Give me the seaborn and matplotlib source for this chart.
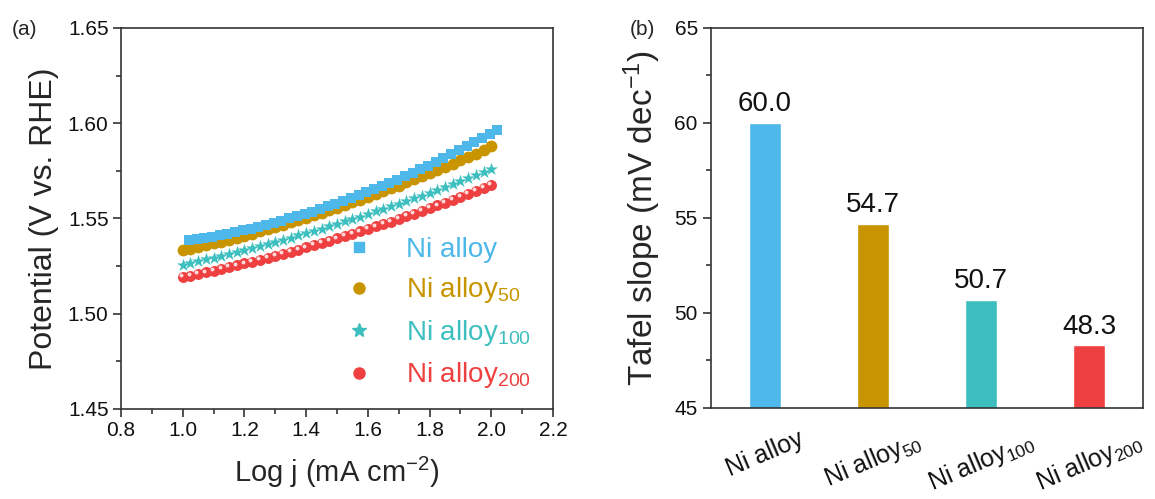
import numpy as np
import pandas as pd
import matplotlib
matplotlib.use("Agg")
import matplotlib.pyplot as plt
import matplotlib.transforms as mtransforms
from matplotlib.lines import Line2D
from matplotlib.ticker import MultipleLocator, FormatStrFormatter
import seaborn as sns

# ---------------- data ----------------
samples = ["Ni alloy", "Ni alloy$_{50}$", "Ni alloy$_{100}$", "Ni alloy$_{200}$"]
colors = ["#4eb8ea", "#c89400", "#3ebfbf", "#ee4040"]

log_j = [1.000, 1.025, 1.050, 1.075, 1.100, 1.125, 1.150, 1.175, 1.200, 1.225,
         1.250, 1.275, 1.300, 1.325, 1.350, 1.375, 1.400, 1.425, 1.450, 1.475,
         1.500, 1.525, 1.550, 1.575, 1.600, 1.625, 1.650, 1.675, 1.700, 1.725,
         1.750, 1.775, 1.800, 1.825, 1.850, 1.875, 1.900, 1.925, 1.950, 1.975,
         2.000]
log_j_ni = [1.020, 1.045, 1.070, 1.095, 1.120, 1.145, 1.170, 1.195, 1.220, 1.245,
            1.270, 1.295, 1.320, 1.345, 1.370, 1.395, 1.420, 1.445, 1.470, 1.495,
            1.520, 1.545, 1.570, 1.595, 1.620, 1.645, 1.670, 1.695, 1.720, 1.745,
            1.770, 1.795, 1.820, 1.845, 1.870, 1.895, 1.920, 1.945, 1.970, 1.995,
            2.020]

pot_ni = [1.5385, 1.5391, 1.5398, 1.5405, 1.5413, 1.5421, 1.5429, 1.5438, 1.5447, 1.5457,
          1.5467, 1.5477, 1.5488, 1.5500, 1.5511, 1.5524, 1.5536, 1.5549, 1.5563, 1.5577,
          1.5591, 1.5606, 1.5621, 1.5637, 1.5653, 1.5669, 1.5686, 1.5703, 1.5721, 1.5739,
          1.5758, 1.5777, 1.5796, 1.5816, 1.5836, 1.5857, 1.5878, 1.5899, 1.5921, 1.5944,
          1.5967]
pot_ni50 = [1.5332, 1.5341, 1.5350, 1.5359, 1.5369, 1.5379, 1.5389, 1.5399, 1.5410, 1.5421,
            1.5432, 1.5443, 1.5455, 1.5466, 1.5479, 1.5491, 1.5503, 1.5516, 1.5529, 1.5542,
            1.5556, 1.5570, 1.5584, 1.5598, 1.5613, 1.5627, 1.5642, 1.5658, 1.5673, 1.5689,
            1.5705, 1.5721, 1.5737, 1.5754, 1.5771, 1.5788, 1.5806, 1.5824, 1.5841, 1.5860,
            1.5878]
pot_ni100 = [1.5258, 1.5267, 1.5276, 1.5286, 1.5295, 1.5305, 1.5315, 1.5325, 1.5335, 1.5345,
             1.5356, 1.5367, 1.5378, 1.5389, 1.5400, 1.5412, 1.5423, 1.5435, 1.5447, 1.5460,
             1.5472, 1.5485, 1.5497, 1.5510, 1.5523, 1.5537, 1.5550, 1.5564, 1.5578, 1.5592,
             1.5606, 1.5620, 1.5635, 1.5650, 1.5665, 1.5680, 1.5695, 1.5711, 1.5726, 1.5742,
             1.5758]
pot_ni200 = [1.5192, 1.5200, 1.5209, 1.5217, 1.5226, 1.5235, 1.5245, 1.5254, 1.5264, 1.5274,
             1.5284, 1.5294, 1.5304, 1.5315, 1.5326, 1.5337, 1.5348, 1.5360, 1.5371, 1.5383,
             1.5395, 1.5407, 1.5420, 1.5432, 1.5445, 1.5458, 1.5471, 1.5484, 1.5498, 1.5512,
             1.5526, 1.5540, 1.5554, 1.5569, 1.5583, 1.5598, 1.5613, 1.5629, 1.5644, 1.5660,
             1.5676]

tafel_slopes = [60.0, 54.7, 50.7, 48.3]

# ---------------- style ----------------
sns.set_style("ticks")
plt.rcParams["font.family"] = ["Liberation Sans", "DejaVu Sans"]
plt.rcParams["mathtext.default"] = "regular"
plt.rcParams["axes.edgecolor"] = "#333333"
plt.rcParams["axes.linewidth"] = 1.2
plt.rcParams["xtick.color"] = "#333333"
plt.rcParams["ytick.color"] = "#333333"
plt.rcParams["xtick.labelcolor"] = "#111111"
plt.rcParams["ytick.labelcolor"] = "#111111"

fig = plt.figure(figsize=(11.55, 4.99), dpi=100)
ax1 = fig.add_axes([0.1048, 0.1804, 0.3740, 0.7635])
ax2 = fig.add_axes([0.6156, 0.1824, 0.3740, 0.7615])

# ---------------- (a) Tafel plots ----------------
frames = []
for name, xs, ys in [(samples[0], log_j_ni, pot_ni),
                     (samples[1], log_j, pot_ni50),
                     (samples[2], log_j, pot_ni100),
                     (samples[3], log_j, pot_ni200)]:
    frames.append(pd.DataFrame({"log_j": xs, "potential": ys, "sample": name}))
tafel = pd.concat(frames, ignore_index=True)

marker_map = {samples[0]: "s", samples[1]: "o", samples[2]: "*", samples[3]: "o"}
size_map = {samples[0]: 52, samples[1]: 72, samples[2]: 95, samples[3]: 62}
palette = dict(zip(samples, colors))

for name in samples[::-1]:
    sub = tafel[tafel["sample"] == name]
    sns.scatterplot(data=sub, x="log_j", y="potential", color=palette[name],
                    marker=marker_map[name], s=size_map[name], linewidth=0,
                    legend=False, ax=ax1, zorder=3)

# glossy highlight on the Ni alloy200 spheres
sub200 = tafel[tafel["sample"] == samples[3]]
shift = mtransforms.ScaledTranslation(-1.3 / 72, 1.3 / 72, fig.dpi_scale_trans)
ax1.scatter(sub200["log_j"], sub200["potential"], s=8, color="#ffd9d9",
            linewidth=0, zorder=4, transform=ax1.transData + shift)

ax1.set_xlim(0.8, 2.2)
ax1.set_ylim(1.45, 1.65)
ax1.xaxis.set_major_locator(MultipleLocator(0.2))
ax1.xaxis.set_minor_locator(MultipleLocator(0.1))
ax1.yaxis.set_major_locator(MultipleLocator(0.05))
ax1.yaxis.set_minor_locator(MultipleLocator(0.025))
ax1.xaxis.set_major_formatter(FormatStrFormatter("%.1f"))
ax1.yaxis.set_major_formatter(FormatStrFormatter("%.2f"))
ax1.tick_params(which="major", direction="out", length=6, width=1.2, labelsize=15, pad=3)
ax1.tick_params(which="minor", direction="out", length=3.5, width=1.2)
ax1.set_xlabel("Log j (mA cm$^{-2}$)", fontsize=21, labelpad=10)
ax1.set_ylabel("Potential (V vs. RHE)", fontsize=23, labelpad=6)
for sp in ax1.spines.values():
    sp.set_visible(True)

handles = [Line2D([], [], linestyle="none", marker=marker_map[n], color=c,
                  markersize={"s": 7, "o": 8, "*": 10}[marker_map[n]])
           for n, c in zip(samples, colors)]
leg = ax1.legend(handles, samples, loc="lower right", bbox_to_anchor=(0.975, 0.02),
                 frameon=False, fontsize=20, handlelength=1.0, handletextpad=1.2,
                 labelspacing=0.45, borderaxespad=0.0)
for txt, c in zip(leg.get_texts(), colors):
    txt.set_color(c)

fig.text(0.010, 0.94, "(a)", fontsize=15, va="center", ha="left")

# ---------------- (b) Tafel slopes ----------------
slopes = pd.DataFrame({"sample": samples, "slope": tafel_slopes})
sns.barplot(data=slopes, x="sample", y="slope", hue="sample", palette=palette,
            width=0.3, saturation=1, legend=False, ax=ax2, zorder=2)
for cont in ax2.containers:
    ax2.bar_label(cont, fmt="%.1f", padding=4, fontsize=20, color="#111111")

ax2.set_xlim(-0.5, 3.5)
ax2.set_ylim(45, 65)
ax2.yaxis.set_major_locator(MultipleLocator(5))
ax2.yaxis.set_minor_locator(MultipleLocator(2.5))
ax2.tick_params(axis="y", which="major", direction="out", length=6, width=1.2, labelsize=15)
ax2.tick_params(axis="y", which="minor", direction="out", length=3.5, width=1.2)
ax2.tick_params(axis="x", length=0, labelsize=18, pad=14)
plt.setp(ax2.get_xticklabels(), rotation=23, ha="center", va="top")
ax2.set_xlabel("")
ax2.set_ylabel("Tafel slope (mV dec$^{-1}$)", fontsize=24, labelpad=8)
for sp in ax2.spines.values():
    sp.set_visible(True)

fig.text(0.545, 0.94, "(b)", fontsize=15, va="center", ha="left")

fig.savefig("out.png", dpi=100)
